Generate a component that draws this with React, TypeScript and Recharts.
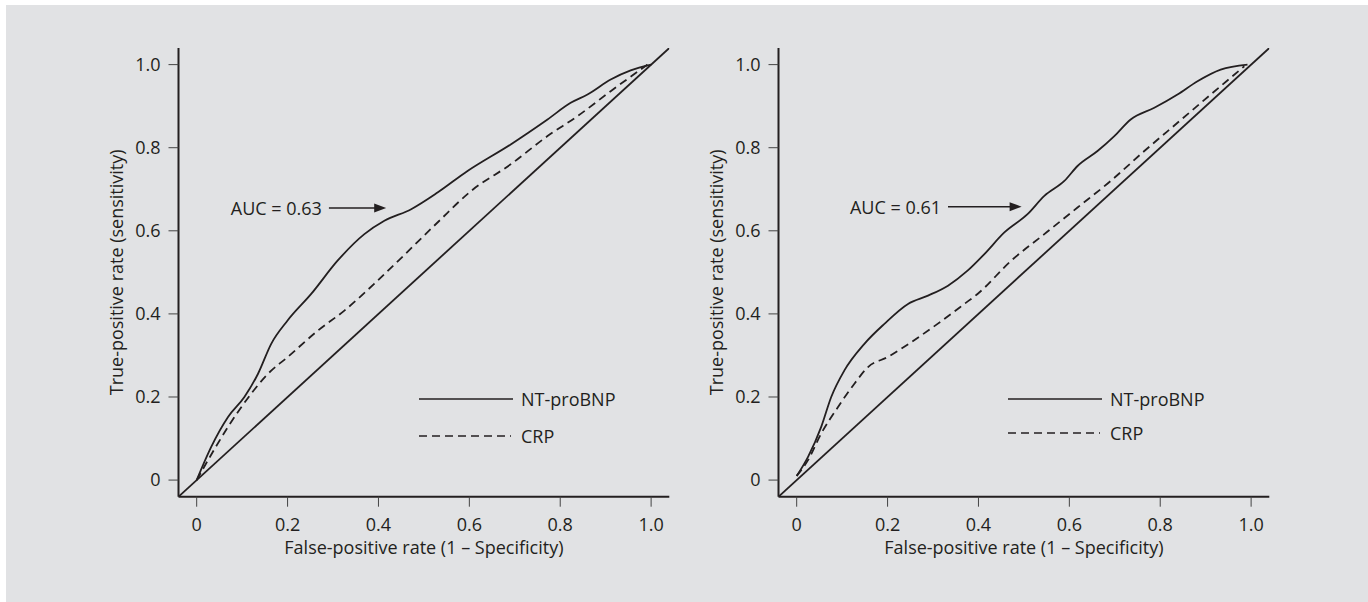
import React from 'react';
import { LineChart, Line, XAxis, YAxis, Legend, ReferenceLine } from 'recharts';

// axis ticks, shared by both panels
const tickValues = [0, 0.2, 0.4, 0.6, 0.8, 1.0];
const tickLabels = ['0', '0.2', '0.4', '0.6', '0.8', '1.0'];
const seriesNames = ['NT-proBNP', 'CRP'];
const aucLabels = ['AUC = 0.63', 'AUC = 0.61'];

// reference (chance) line
const chanceFpr = [-0.04, 1.04];
const chanceTpr = [-0.04, 1.04];

// left panel
const bnpFprA = [0, 0.032, 0.069, 0.105, 0.135, 0.164, 0.2, 0.252, 0.31, 0.369, 0.413, 0.472, 0.53, 0.596, 0.691, 0.772, 0.823, 0.86, 0.911, 0.955, 1.0];
const bnpTprA = [0, 0.08, 0.152, 0.2, 0.256, 0.328, 0.384, 0.448, 0.528, 0.592, 0.624, 0.652, 0.692, 0.744, 0.808, 0.868, 0.908, 0.928, 0.964, 0.986, 1.0];
const crpFprA = [0, 0.025, 0.069, 0.12, 0.157, 0.2, 0.267, 0.325, 0.398, 0.457, 0.53, 0.604, 0.691, 0.772, 0.838, 0.911, 0.992];
const crpTprA = [0, 0.048, 0.128, 0.208, 0.256, 0.296, 0.36, 0.408, 0.48, 0.542, 0.62, 0.696, 0.76, 0.828, 0.876, 0.936, 1.0];

// right panel
const bnpFprB = [0, 0.025, 0.054, 0.076, 0.105, 0.149, 0.193, 0.245, 0.289, 0.333, 0.376, 0.413, 0.457, 0.508, 0.545, 0.589, 0.618, 0.662, 0.699, 0.735, 0.787, 0.838, 0.882, 0.933, 0.992];
const bnpTprB = [0.01, 0.056, 0.128, 0.2, 0.264, 0.328, 0.376, 0.424, 0.444, 0.468, 0.504, 0.544, 0.596, 0.64, 0.684, 0.72, 0.756, 0.792, 0.828, 0.868, 0.896, 0.928, 0.96, 0.988, 1.0];
const crpFprB = [0, 0.025, 0.054, 0.091, 0.127, 0.157, 0.2, 0.252, 0.31, 0.369, 0.398, 0.472, 0.545, 0.618, 0.691, 0.765, 0.838, 0.911, 0.985];
const crpTprB = [0.01, 0.048, 0.112, 0.176, 0.232, 0.272, 0.296, 0.332, 0.376, 0.424, 0.448, 0.528, 0.592, 0.656, 0.72, 0.792, 0.86, 0.928, 0.996];

const ink = '#231f20';
const bg = '#e1e2e4';
const font = '"Open Sans", sans-serif';
const fontSize = 18;

const zip = (xs: number[], ys: number[]) => xs.map((x, i) => ({ x, y: ys[i] }));
const fmtTick = (v: number) => tickLabels[tickValues.indexOf(v)] ?? String(v);

const AucArrow = (props: any) => {
  const { x1, y1, x2, y2, text } = props;
  return (
    <g>
      <text x={x1 - 7} y={y1} textAnchor="end" dominantBaseline="central" fontSize={fontSize} fontFamily={font} fill={ink}>
        {text}
      </text>
      <line x1={x1} y1={y1} x2={x2 - 9} y2={y2} stroke={ink} strokeWidth={1.5} />
      <path d={`M${x2},${y2} L${x2 - 12},${y2 - 4.5} L${x2 - 12},${y2 + 4.5} Z`} fill={ink} />
    </g>
  );
};

const RocLegend = ({ gap }: { gap: number }) => (
  <div style={{ fontFamily: font, fontSize, color: ink, lineHeight: 1 }}>
    {seriesNames.map((name, i) => (
      <div key={name} style={{ display: 'flex', alignItems: 'center', height: gap }}>
        <svg width={94} height={4} style={{ display: 'block' }}>
          <line x1={0} y1={2} x2={i === 1 ? 92 : 94} y2={2} stroke={ink} strokeWidth={1.6} strokeDasharray={i === 1 ? '8 5' : undefined} />
        </svg>
        <span style={{ marginLeft: 8 }}>{name}</span>
      </div>
    ))}
  </div>
);

interface PanelProps {
  bnp: { x: number; y: number }[];
  crp: { x: number; y: number }[];
  auc: string;
  arrow: { x0: number; x1: number; y: number };
  legendPos: { left: number; top: number; gap: number };
}

const RocPanel = ({ bnp, crp, auc, arrow, legendPos }: PanelProps) => {
  const chance = zip(chanceFpr, chanceTpr);
  return (
    <LineChart width={680} height={597} margin={{ top: 43, right: 16.7, bottom: 2.7, left: 49.5 }} style={{ fontFamily: font }}>
      <XAxis
        dataKey="x"
        type="number"
        domain={[-0.04, 1.04]}
        ticks={tickValues}
        tickFormatter={fmtTick}
        allowDataOverflow
        height={102.6}
        tickSize={10}
        tickMargin={12}
        axisLine={{ stroke: ink, strokeWidth: 2 }}
        tickLine={{ stroke: '#444', strokeWidth: 1 }}
        tick={{ fill: ink, fontSize, fontFamily: font }}
        label={{ value: 'False-positive rate (1 – Specificity)', position: 'center', fill: ink, fontSize, fontFamily: font }}
      />
      <YAxis
        type="number"
        domain={[-0.04, 1.04]}
        ticks={tickValues}
        tickFormatter={fmtTick}
        allowDataOverflow
        width={123}
        tickSize={10}
        tickMargin={8}
        axisLine={{ stroke: ink, strokeWidth: 2 }}
        tickLine={{ stroke: '#444', strokeWidth: 1 }}
        tick={{ fill: ink, fontSize, fontFamily: font }}
        label={{ value: 'True-positive rate (sensitivity)', angle: -90, position: 'center', fill: ink, fontSize, fontFamily: font }}
      />
      <Line data={chance} dataKey="y" type="linear" stroke={ink} strokeWidth={1.8} dot={false} activeDot={false} legendType="none" isAnimationActive={false} />
      <Line data={crp} dataKey="y" name={seriesNames[1]} type="monotone" stroke={ink} strokeWidth={1.8} strokeDasharray="8 5" dot={false} activeDot={false} isAnimationActive={false} />
      <Line data={bnp} dataKey="y" name={seriesNames[0]} type="monotone" stroke={ink} strokeWidth={1.8} dot={false} activeDot={false} isAnimationActive={false} />
      <ReferenceLine
        segment={[{ x: arrow.x0, y: arrow.y }, { x: arrow.x1, y: arrow.y }]}
        ifOverflow="visible"
        shape={(p: any) => <AucArrow {...p} text={auc} />}
      />
      <Legend
        layout="vertical"
        align="center"
        verticalAlign="middle"
        content={() => <RocLegend gap={legendPos.gap} />}
        wrapperStyle={{ left: legendPos.left, top: legendPos.top, width: 'auto', height: 'auto' }}
      />
    </LineChart>
  );
};

export default function App() {
  return (
    <div style={{ position: 'absolute', left: 6, top: 5, width: 1362, height: 597, background: bg, fontFamily: font }}>
      <div style={{ position: 'absolute', left: 0, top: 0 }}>
        <RocPanel
          bnp={zip(bnpFprA, bnpTprA)}
          crp={zip(crpFprA, crpTprA)}
          auc={aucLabels[0]}
          arrow={{ x0: 0.291, x1: 0.417, y: 0.655 }}
          legendPos={{ left: 413, top: 375.5, gap: 37 }}
        />
      </div>
      <div style={{ position: 'absolute', left: 600, top: 0 }}>
        <RocPanel
          bnp={zip(bnpFprB, bnpTprB)}
          crp={zip(crpFprB, crpTprB)}
          auc={aucLabels[1]}
          arrow={{ x0: 0.333, x1: 0.495, y: 0.658 }}
          legendPos={{ left: 402, top: 377, gap: 34 }}
        />
      </div>
    </div>
  );
}
